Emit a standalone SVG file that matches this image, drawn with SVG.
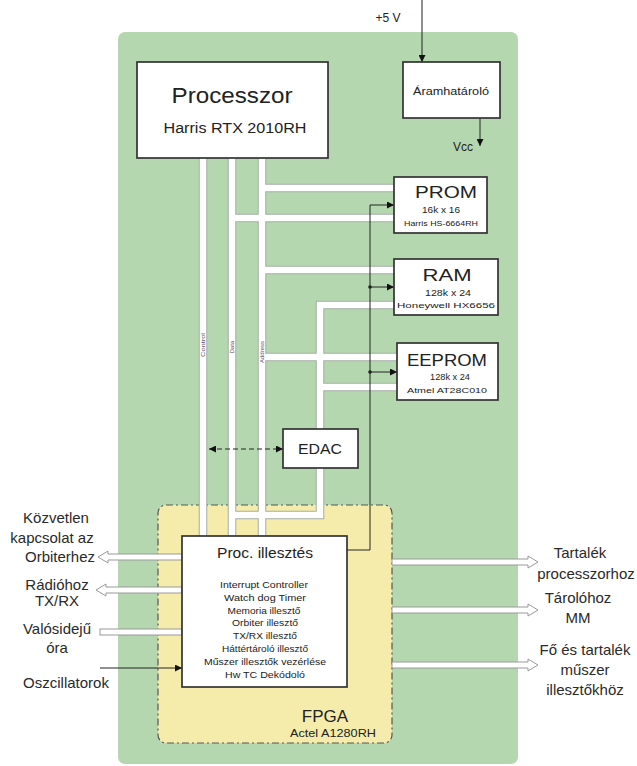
<svg xmlns="http://www.w3.org/2000/svg" width="637" height="766" viewBox="0 0 637 766">
<defs>
<marker id="ah" viewBox="0 0 10 10" refX="10" refY="5" markerWidth="7" markerHeight="7" markerUnits="userSpaceOnUse" orient="auto-start-reverse">
<path d="M0,0 L10,5 L0,10 Z" fill="#111"/>
</marker>
<style>
text{font-family:"Liberation Sans",Arial,sans-serif;fill:#222}
.box{fill:#fff;stroke:#333;stroke-width:1.7}
.busO{fill:none;stroke:#a3ada3;stroke-width:8.5}
.busI{fill:none;stroke:#fff;stroke-width:6.5}
.thin{fill:none;stroke:#222;stroke-width:1}
.hollow{fill:#fff;stroke:#9a9a9a;stroke-width:1}
.c{text-anchor:middle}
.lbl{font-size:15px;text-anchor:middle;fill:#2a2a2a}
.bl{font-size:6px;fill:#5a4a6a}
.li{font-size:9px;text-anchor:middle}
</style>
</defs>
<rect width="637" height="766" fill="#fff"/>
<rect id="board" x="118" y="32" width="400" height="732" rx="7" fill="#b5d7af"/>
<g id="fpga">
<rect x="158" y="505" width="234" height="238" rx="8" fill="#f5ecac" stroke="#555" stroke-width="1.2" stroke-dasharray="7,3,2,3"/>
<text x="325" y="722" class="c" font-size="17" fill="#333">FPGA</text>
<text x="333" y="737" class="c" font-size="11" textLength="86" lengthAdjust="spacingAndGlyphs">Actel A1280RH</text>
</g>
<g id="connectors">
<path class="busO" d="M203,158V536 M232,158V536 M262,158V536 M262,188H394 M232,218H394 M262,270H394 M394,305H320V429 M262,357H397 M397,387H320 M320,468V515H232"/>
<path class="busI" d="M203,158V536 M232,158V536 M262,158V536 M262,188H394 M232,218H394 M262,270H394 M394,305H320V429 M262,357H397 M397,387H320 M320,468V515H232"/>
<text class="bl" transform="translate(205,345) rotate(-90)" text-anchor="middle" textLength="24" lengthAdjust="spacingAndGlyphs">Control</text>
<text class="bl" transform="translate(234,347) rotate(-90)" text-anchor="middle">Data</text>
<text class="bl" transform="translate(264,352) rotate(-90)" text-anchor="middle" textLength="22" lengthAdjust="spacingAndGlyphs">Address</text>
<path class="thin" d="M347,550H370V205H394" marker-end="url(#ah)"/>
<path class="thin" d="M370,287H394" marker-end="url(#ah)"/>
<path class="thin" d="M370,372H397" marker-end="url(#ah)"/>
<circle cx="370" cy="287" r="1.8" fill="#222"/>
<circle cx="370" cy="372" r="1.8" fill="#222"/>
<path class="thin" d="M209,449H283" stroke-dasharray="5,3" marker-start="url(#ah)" marker-end="url(#ah)"/>
<path class="thin" d="M422,0V62" marker-end="url(#ah)"/>
<path class="thin" d="M480,118V146" marker-end="url(#ah)"/>
<path class="thin" stroke-width="1.5" d="M100,668H182" marker-end="url(#ah)"/>
<polygon class="hollow" points="182,554 108,554 108,551 98,557 108,563 108,560 182,560"/>
<polygon class="hollow" points="182,587 106,587 106,584 96,590 106,596 106,593 182,593"/>
<rect class="hollow" x="100" y="629" width="82" height="6"/>
<polygon class="hollow" points="392,559 528,559 528,556 538,562 528,568 528,565 392,565"/>
<polygon class="hollow" points="392,607 528,607 528,604 538,610 528,616 528,613 392,613"/>
<polygon class="hollow" points="392,662 528,662 528,659 538,665 528,671 528,668 392,668"/>
</g>
<g id="processor">
<rect class="box" x="137" y="62" width="191" height="96"/>
<text x="232" y="103" class="c" font-size="22" textLength="121" lengthAdjust="spacingAndGlyphs">Processzor</text>
<text x="235" y="133" class="c" font-size="14" textLength="143" lengthAdjust="spacingAndGlyphs">Harris RTX 2010RH</text>
</g>
<g id="aramhatarolo">
<rect class="box" x="403" y="62" width="97" height="56"/>
<text x="451" y="95" class="c" font-size="10.5" textLength="76" lengthAdjust="spacingAndGlyphs">Áramhatároló</text>
</g>
<text x="388" y="22" class="c" font-size="12">+5 V</text>
<text x="463" y="151" class="c" font-size="12">Vcc</text>
<g id="prom">
<rect class="box" x="394" y="177" width="93" height="56"/>
<text x="446" y="198" class="c" font-size="17" textLength="62" lengthAdjust="spacingAndGlyphs">PROM</text>
<text x="441" y="213" class="c" font-size="8.5" textLength="38" lengthAdjust="spacingAndGlyphs">16k x 16</text>
<text x="441" y="226" class="c" font-size="7.5" textLength="74" lengthAdjust="spacingAndGlyphs">Harris HS-6664RH</text>
</g>
<g id="ram">
<rect class="box" x="394" y="259" width="104" height="56"/>
<text x="447" y="281" class="c" font-size="17" textLength="49" lengthAdjust="spacingAndGlyphs">RAM</text>
<text x="448" y="296" class="c" font-size="8.5" textLength="46" lengthAdjust="spacingAndGlyphs">128k x 24</text>
<text x="446" y="308" class="c" font-size="8" textLength="98" lengthAdjust="spacingAndGlyphs">Honeywell HX6656</text>
</g>
<g id="eeprom">
<rect class="box" x="397" y="343" width="101" height="57"/>
<text x="447" y="366" class="c" font-size="17" textLength="80" lengthAdjust="spacingAndGlyphs">EEPROM</text>
<text x="450" y="380" class="c" font-size="8.5" textLength="40" lengthAdjust="spacingAndGlyphs">128k x 24</text>
<text x="447" y="393" class="c" font-size="8" textLength="80" lengthAdjust="spacingAndGlyphs">Atmel AT28C010</text>
</g>
<g id="edac">
<rect class="box" x="283" y="429" width="75" height="39"/>
<text x="320" y="454" class="c" font-size="14" textLength="44" lengthAdjust="spacingAndGlyphs">EDAC</text>
</g>
<g id="proc-illesztes">
<rect class="box" x="182" y="536" width="165" height="151"/>
<text x="265" y="558" class="c" font-size="14" textLength="96" lengthAdjust="spacingAndGlyphs">Proc. illesztés</text>
<text class="li" x="264" y="588" textLength="88" lengthAdjust="spacingAndGlyphs">Interrupt Controller</text>
<text class="li" x="265" y="601" textLength="82" lengthAdjust="spacingAndGlyphs">Watch dog Timer</text>
<text class="li" x="264" y="614" textLength="73" lengthAdjust="spacingAndGlyphs">Memoria illesztő</text>
<text class="li" x="265" y="626" textLength="66" lengthAdjust="spacingAndGlyphs">Orbiter illesztő</text>
<text class="li" x="265" y="639" textLength="64" lengthAdjust="spacingAndGlyphs">TX/RX illesztő</text>
<text class="li" x="265" y="652" textLength="86" lengthAdjust="spacingAndGlyphs">Háttértároló illesztő</text>
<text class="li" x="265" y="665" textLength="122" lengthAdjust="spacingAndGlyphs">Műszer illesztők vezérlése</text>
<text class="li" x="265" y="678" textLength="80" lengthAdjust="spacingAndGlyphs">Hw TC Dekódoló</text>
</g>
<g id="left-labels">
<text class="lbl" x="56" y="523">Közvetlen</text>
<text class="lbl" x="52" y="543">kapcsolat az</text>
<text class="lbl" x="60" y="562">Orbiterhez</text>
<text class="lbl" x="57" y="590">Rádióhoz</text>
<text class="lbl" x="57" y="606">TX/RX</text>
<text class="lbl" x="57" y="634">Valósidejű</text>
<text class="lbl" x="57" y="653">óra</text>
<text class="lbl" x="66" y="688">Oszcillatorok</text>
</g>
<g id="right-labels">
<text class="lbl" x="580" y="558">Tartalék</text>
<text class="lbl" x="586" y="579">processzorhoz</text>
<text class="lbl" x="578" y="603">Tárolóhoz</text>
<text class="lbl" x="578" y="623">MM</text>
<text class="lbl" x="585" y="655">Fő és tartalék</text>
<text class="lbl" x="585" y="675">műszer</text>
<text class="lbl" x="585" y="695">illesztőkhöz</text>
</g>
</svg>
